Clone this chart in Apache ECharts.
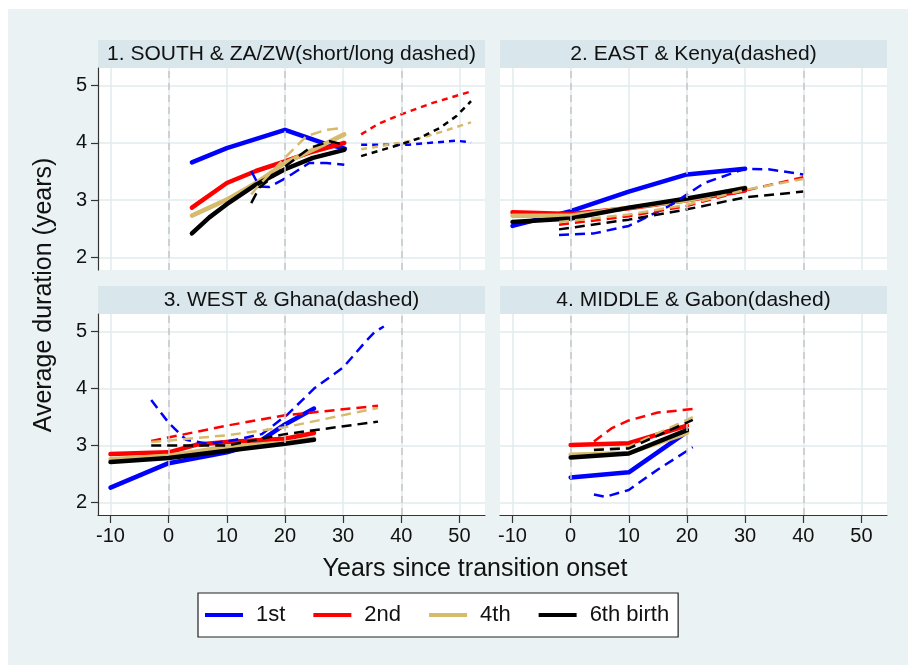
<!DOCTYPE html>
<html><head><meta charset="utf-8">
<script src="https://cdn.jsdelivr.net/npm/echarts@6/dist/echarts.min.js"></script>
<style>html,body{margin:0;padding:0;background:#fff}#c{width:908px;height:665px}</style>
</head><body><div id="c"></div>
<script>
// ---------- data ----------
const xTicks = [-10, 0, 10, 20, 30, 40, 50];
const yTicks = [2, 3, 4, 5];
const refLines = [0, 20, 40];
const birthNames = ['1st', '2nd', '4th', '6th birth'];
const panelTitles = ['1. SOUTH & ZA/ZW(short/long dashed)', '2. EAST & Kenya(dashed)', '3. WEST & Ghana(dashed)', '4. MIDDLE & Gabon(dashed)'];
const xTitle = 'Years since transition onset';
const yTitle = 'Average duration (years)';

// Panel 1: SOUTH region (solid)
const south1st = [[4,3.66],[10,3.91],[20,4.23],[26.5,4.0],[30.3,3.9]];
const south2nd = [[4,2.87],[10,3.3],[15,3.51],[20,3.68],[24.2,3.83],[30.2,4.0]];
const south4th = [[4,2.73],[10,3.01],[15,3.3],[20,3.65],[24.8,3.88],[30.2,4.15]];
const south6th = [[4,2.42],[7,2.7],[10,2.93],[15,3.27],[20,3.54],[24.8,3.74],[30.2,3.88]];
// Panel 1: ZA (long dashed)
const za1st = [[14.2,3.51],[15.6,3.24],[17.3,3.23],[20.2,3.39],[24.2,3.65],[27.1,3.65],[30.2,3.62]];
const za4th = [[14.2,3.1],[15.6,3.27],[20,3.74],[23.7,4.12],[27.1,4.23],[30,4.26]];
const za6th = [[14.2,2.95],[15.6,3.22],[20.2,3.6],[24.2,3.91],[27.7,4.03],[30.2,3.97]];
// Panel 1: ZW (short dashed)
const zw1st = [[33.1,3.97],[41.3,3.97],[49.4,4.04],[52,4.01]];
const zw2nd = [[33.1,4.15],[36,4.33],[39.7,4.49],[45.4,4.7],[52,4.9]];
const zw4th = [[33.1,3.89],[41.4,4.03],[47.1,4.2],[52,4.36]];
const zw6th = [[33.1,3.77],[39.7,3.97],[43,4.08],[46.6,4.26],[49.5,4.47],[52,4.73]];

// Panel 2: EAST region (solid)
const east1st = [[-10,2.55],[0,2.81],[10,3.15],[20,3.45],[30,3.55]];
const east2nd = [[-10,2.79],[0,2.76],[10,2.86],[20,3.0],[30,3.17]];
const east4th = [[-10,2.73],[0,2.73],[10,2.87],[20,3.0],[30,3.22]];
const east6th = [[-10,2.62],[0,2.68],[10,2.87],[20,3.03],[30,3.21]];
// Panel 2: Kenya (dashed)
const kenya1st = [[-2,2.39],[4,2.42],[10,2.55],[17,2.9],[23,3.3],[30,3.55],[34,3.54],[40,3.45]];
const kenya2nd = [[-2,2.57],[10,2.72],[20,2.9],[30,3.17],[40,3.4]];
const kenya4th = [[-2,2.62],[10,2.75],[20,2.92],[30,3.18],[40,3.37]];
const kenya6th = [[-2,2.49],[10,2.66],[20,2.84],[30,3.05],[40,3.15]];

// Panel 3: WEST region (solid)
const west1st = [[-10,2.26],[0,2.69],[10,2.88],[15,3.03],[20,3.37],[25,3.65]];
const west2nd = [[-10,2.85],[0,2.88],[5,3.02],[10,3.06],[20,3.12],[25,3.22]];
const west4th = [[-10,2.76],[0,2.82],[10,2.98],[20,3.05],[25,3.12]];
const west6th = [[-10,2.71],[0,2.78],[10,2.91],[20,3.03],[25,3.1]];
// Panel 3: Ghana (dashed)
const ghana1st = [[-3,3.8],[0,3.4],[3,3.1],[7,3.03],[11.5,3.1],[16,3.2],[20.5,3.55],[25,4.0],[30,4.37],[34,4.84],[35.5,5.0],[37,5.09]];
const ghana2nd = [[-3,3.08],[10,3.35],[20,3.53],[36,3.7]];
const ghana4th = [[-3,3.06],[10,3.18],[20,3.32],[36,3.66]];
const ghana6th = [[-3,3.0],[10,3.0],[20,3.2],[36,3.42]];

// Panel 4: MIDDLE region (solid)
const middle1st = [[0,2.44],[10,2.53],[20,3.24]];
const middle2nd = [[0,3.01],[10,3.04],[20,3.35]];
const middle4th = [[0,2.84],[10,2.87],[20,3.22]];
const middle6th = [[0,2.79],[10,2.86],[20,3.27]];
// Panel 4: Gabon (dashed)
const gabon1st = [[4,2.14],[6,2.1],[10,2.22],[15,2.58],[21,2.97]];
const gabon2nd = [[4,3.07],[7,3.3],[10,3.44],[15,3.58],[21,3.64]];
const gabon4th = [[4,2.93],[10,2.98],[21,3.5]];
const gabon6th = [[4,2.92],[10,2.95],[21,3.45]];

// ---------- styling / layout ----------
const FONT = '"Liberation Sans", Arial, sans-serif';
const colors = ['#0000ff', '#ff0000', '#d6bb6c', '#000000'];
const grids = [
  {left: 98, top: 68, width: 387, height: 202},
  {left: 500, top: 68, width: 387, height: 202},
  {left: 98, top: 314, width: 387, height: 201},
  {left: 500, top: 314, width: 387, height: 201}
];
const LONG = [11, 6], SHORT = [6, 5], DASH = [10, 6];
const panels = [
  {solid: [south1st, south2nd, south4th, south6th],
   dashed: [[za1st, 0, LONG], [za4th, 2, LONG], [za6th, 3, LONG],
            [zw1st, 0, SHORT], [zw2nd, 1, SHORT], [zw4th, 2, SHORT], [zw6th, 3, SHORT]]},
  {solid: [east1st, east2nd, east4th, east6th],
   dashed: [[kenya1st, 0, DASH], [kenya2nd, 1, DASH], [kenya4th, 2, DASH], [kenya6th, 3, DASH]]},
  {solid: [west1st, west2nd, west4th, west6th],
   dashed: [[ghana1st, 0, DASH], [ghana2nd, 1, DASH], [ghana4th, 2, DASH], [ghana6th, 3, DASH]]},
  {solid: [middle1st, middle2nd, middle4th, middle6th],
   dashed: [[gabon1st, 0, DASH], [gabon2nd, 1, DASH], [gabon4th, 2, DASH], [gabon6th, 3, DASH]]}
];

const gridLineColor = '#e2ebee';
const xAxes = [], yAxes = [], series = [], graphics = [];

graphics.push({type: 'rect', shape: {x: 0, y: 0, width: 8, height: 665}, style: {fill: '#fff'}, silent: true});
graphics.push({type: 'rect', shape: {x: 0, y: 0, width: 908, height: 9}, style: {fill: '#fff'}, silent: true});

grids.forEach((g, i) => {
  const bottom = i >= 2, left = i % 2 === 0;
  xAxes.push({
    type: 'value', gridIndex: i, min: -12.15, max: 54.4, splitNumber: 6,
    axisLine: {show: bottom, onZero: false, lineStyle: {color: '#333', width: 1.2}},
    axisTick: {show: bottom, length: 8, customValues: xTicks, lineStyle: {color: '#333', width: 1.2}},
    axisLabel: {show: bottom, customValues: xTicks, fontSize: 20, color: '#111', fontFamily: FONT, margin: 11},
    splitLine: {show: true, lineStyle: {color: gridLineColor, width: 1.5}}
  });
  yAxes.push({
    type: 'value', gridIndex: i, min: 1.78, max: 5.31, splitNumber: 3,
    axisLine: {show: left, onZero: false, lineStyle: {color: '#333', width: 1.2}},
    axisTick: {show: left, length: 7, customValues: yTicks, lineStyle: {color: '#333', width: 1.2}},
    axisLabel: {show: left, customValues: yTicks, fontSize: 20, color: '#111', fontFamily: FONT, margin: 11},
    splitLine: {show: true, lineStyle: {color: gridLineColor, width: 1.5}}
  });
  // title strip
  graphics.push({type: 'rect', shape: {x: g.left, y: g.top - 28, width: g.width, height: 28},
    style: {fill: '#d9e6ec'}, silent: true});
  graphics.push({type: 'text', x: g.left + g.width / 2, y: g.top - 14,
    style: {text: panelTitles[i], fill: '#111', font: '21px ' + FONT, textAlign: 'center', textVerticalAlign: 'middle'}, silent: true});
  // reference (dashed vertical) lines
  series.push({
    type: 'line', name: 'ref' + i, xAxisIndex: i, yAxisIndex: i, data: [], z: 1, silent: true,
    markLine: {silent: true, symbol: ['none', 'none'], label: {show: false}, animation: false,
      lineStyle: {color: '#c6c6c6', type: [7, 5], width: 1.5},
      data: refLines.map(v => ({xAxis: v}))}
  });
  const p = panels[i];
  p.solid.forEach((d, k) => {
    series.push({type: 'line', name: birthNames[k], xAxisIndex: i, yAxisIndex: i, data: d,
      showSymbol: false, symbol: 'none', z: 3, color: colors[k], itemStyle: {color: colors[k]},
      lineStyle: {color: colors[k], width: 4.5, join: 'round', cap: 'round'}});
  });
  p.dashed.forEach(([d, k, dash]) => {
    series.push({type: 'line', name: birthNames[k] + ' (country)', xAxisIndex: i, yAxisIndex: i, data: d,
      showSymbol: false, symbol: 'none', z: 4, color: colors[k],
      lineStyle: {color: colors[k], width: 2.5, type: dash, join: 'round'}});
  });
});

graphics.push({type: 'text', x: 44, y: 295, rotation: Math.PI / 2,
  style: {text: yTitle, fill: '#111', font: '25px ' + FONT, textAlign: 'center', textVerticalAlign: 'middle'}, silent: true});
graphics.push({type: 'text', x: 475, y: 569,
  style: {text: xTitle, fill: '#111', font: '25px ' + FONT, textAlign: 'center', textVerticalAlign: 'middle'}, silent: true});

const chart = echarts.init(document.getElementById('c'), null, {renderer: 'canvas'});
chart.setOption({
  animation: false,
  backgroundColor: '#eaf2f3',
  grid: grids.map(g => Object.assign({show: true, backgroundColor: '#fff', borderWidth: 0, containLabel: false}, g)),
  xAxis: xAxes,
  yAxis: yAxes,
  legend: {
    data: birthNames, left: 198, top: 593, orient: 'horizontal',
    icon: 'rect', itemWidth: 38, itemHeight: 4, itemGap: 28,
    padding: [11, 9, 11, 7], borderColor: '#222', borderWidth: 1.2, backgroundColor: '#fff',
    textStyle: {fontSize: 22, color: '#111', fontFamily: FONT, padding: [0, 0, 0, 8]},
    selectedMode: false
  },
  graphic: graphics,
  series: series
});
</script>
</body></html>
